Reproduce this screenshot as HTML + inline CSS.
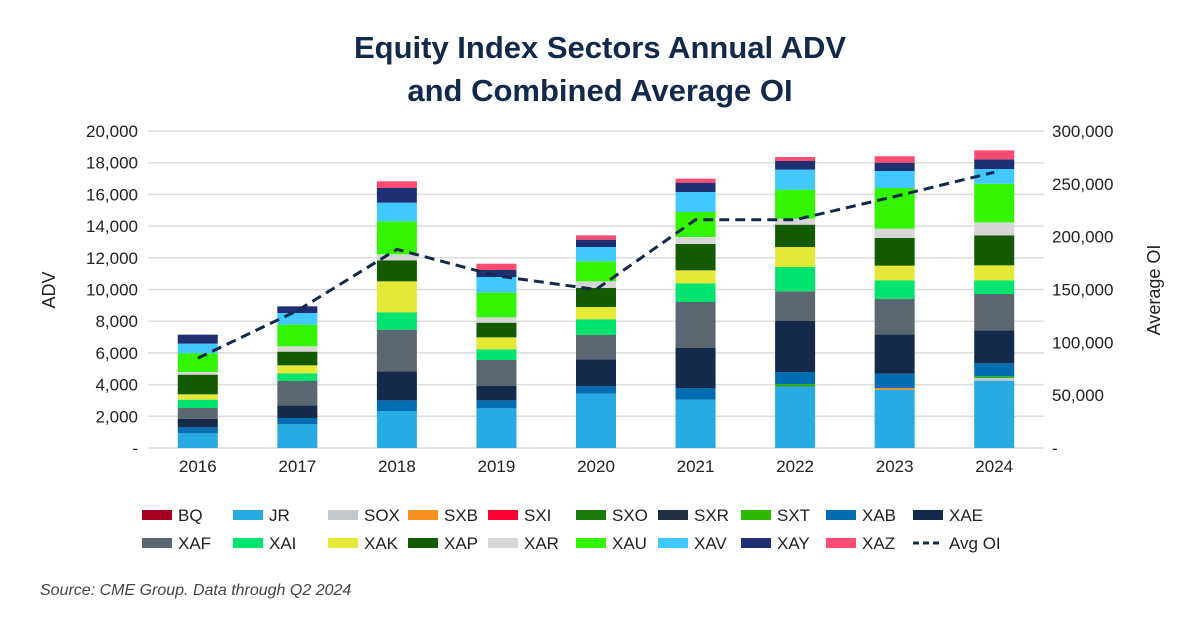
<!DOCTYPE html>
<html><head><meta charset="utf-8"><style>
html,body{margin:0;padding:0;background:#fff;width:1200px;height:627px;overflow:hidden;font-family:"Liberation Sans",sans-serif;}
</style></head><body>
<svg id="chart" width="1200" height="627" xmlns="http://www.w3.org/2000/svg" font-family="Liberation Sans, sans-serif">
<text x="600" y="58" text-anchor="middle" font-size="31" font-weight="bold" fill="#13294b">Equity Index Sectors Annual ADV</text>
<text x="600" y="101" text-anchor="middle" font-size="31" font-weight="bold" fill="#13294b">and Combined Average OI</text>
<text transform="translate(55,290) rotate(-90)" text-anchor="middle" font-size="18" fill="#222">ADV</text>
<text transform="translate(1160,290) rotate(-90)" text-anchor="middle" font-size="18" fill="#222">Average OI</text>
<text x="40" y="595" font-size="16" font-style="italic" fill="#444">Source: CME Group. Data through Q2 2024</text>
<g id="grid"></g><g id="bars"></g><g id="line"></g><g id="axes"></g><g id="legend"></g>
</svg>
<script>
const years=["2016","2017","2018","2019","2020","2021","2022","2023","2024"];
const seriesNames=["BQ","JR","SOX","SXB","SXI","SXO","SXR","SXT","XAB","XAE","XAF","XAI","XAK","XAP","XAR","XAU","XAV","XAY","XAZ"];
const BQ=[0,0,0,0,0,0,0,0,0];
const JR=[925,1493,2334,2503,3428,3049,3890,3680,4248];
const SOX=[0,0,0,0,0,0,0,0,168];
const SXB=[0,0,0,0,0,0,0,105,0];
const SXI=[0,0,0,0,0,0,0,0,0];
const SXO=[0,0,0,0,0,0,63,0,0];
const SXR=[0,0,0,0,0,0,0,0,0];
const SXT=[0,0,0,0,0,0,84,0,105];
const XAB=[378,400,673,505,463,715,757,904,820];
const XAE=[547,799,1830,904,1703,2545,3218,2482,2082];
const XAF=[673,1535,2629,1640,1535,2902,1872,2229,2292];
const XAI=[526,484,1094,673,988,1178,1535,1178,862];
const XAK=[337,505,1956,757,778,820,1262,925,946];
const XAP=[1241,862,1325,925,1199,1661,1409,1746,1893];
const XAR=[168,336,379,336,421,442,379,589,820];
const XAU=[1178,1367,2082,1556,1262,1577,1830,2566,2439];
const XAV=[610,736,1178,988,904,1262,1262,1073,925];
const XAY=[568,421,925,442,463,589,547,526,610];
const XAZ=[0,0,421,400,273,252,252,400,568];
const avgOI=[85000,130000,188000,163000,150000,216000,216000,238000,261000];
const leftTicks=[0,2000,4000,6000,8000,10000,12000,14000,16000,18000,20000];
const rightTicks=[0,50000,100000,150000,200000,250000,300000];
const colors={BQ:"#a50021",JR:"#27a9e1",SOX:"#c2c8cc",SXB:"#f7901e",SXI:"#ff0033",SXO:"#1b7a0a",SXR:"#22313f",SXT:"#2dba00",XAB:"#006db3",XAE:"#132a4a",XAF:"#5b6770",XAI:"#00e36e",XAK:"#e4e836",XAP:"#145a00",XAR:"#d6d6d6",XAU:"#33f500",XAV:"#40c8ff",XAY:"#1e2f72",XAZ:"#ff4b71"};
const data={BQ,JR,SOX,SXB,SXI,SXO,SXR,SXT,XAB,XAE,XAF,XAI,XAK,XAP,XAR,XAU,XAV,XAY,XAZ};
const NS="http://www.w3.org/2000/svg";
const x0=148,x1=1044,yB=448,yT=131;
const yL=v=>yB-(v/20000)*(yB-yT);
const yR=v=>yB-(v/300000)*(yB-yT);
const step=(x1-x0)/years.length;
const xC=i=>x0+step*(i+0.5);
function mk(tag,attrs,parent,txt){const e=document.createElementNS(NS,tag);for(const k in attrs)e.setAttribute(k,attrs[k]);if(txt!==undefined)e.textContent=txt;parent.appendChild(e);return e;}
const fmt=v=>v===0?"-":v.toLocaleString("en-US");
const grid=document.getElementById("grid"),axes=document.getElementById("axes");
leftTicks.forEach(t=>{
  const g=mk("line",{x1:x0,x2:x1,y1:yL(t),y2:yL(t),stroke:"#dcdcdc","stroke-width":1.5},grid);
  
  
  const l=mk("text",{x:138,y:yL(t)+6,"text-anchor":"end","font-size":17,fill:"#222"},axes,fmt(t));
  
  
});
rightTicks.forEach(t=>{
  const l=mk("text",{x:1052,y:yR(t)+6,"text-anchor":"start","font-size":17,fill:"#222"},axes,fmt(t));
  
  
});
years.forEach((y,i)=>{
  const l=mk("text",{x:xC(i),y:472,"text-anchor":"middle","font-size":17,fill:"#222"},axes,y);
  
  
});
const bars=document.getElementById("bars");const bw=40;
years.forEach((y,i)=>{
  let cum=0;
  seriesNames.forEach(s=>{
    const v=data[s][i];if(!v)return;
    const r=mk("rect",{x:xC(i)-bw/2,y:yL(cum+v),width:bw,height:yL(cum)-yL(cum+v),fill:colors[s]},bars);
    
    
    cum+=v;
  });
});
const pts=avgOI.map((v,i)=>xC(i)+","+yR(v)).join(" ");
const pl=mk("polyline",{points:pts,fill:"none",stroke:"#13294b","stroke-width":3,"stroke-dasharray":"10,6"},document.getElementById("line"));


const leg=document.getElementById("legend");
const lx=[142,233,328,408,488,576,658,741,826,913];
const legendItems=seriesNames.concat(["Avg OI"]);
legendItems.forEach((s,k)=>{
  const row=k<10?0:1,col=k%10;const y=row?543:515;const x=lx[col];
  const g=mk("g",{},leg);
  
  
  if(s==="Avg OI"){mk("line",{x1:x,x2:x+30,y1:y,y2:y,stroke:"#13294b","stroke-width":3,"stroke-dasharray":"6,4"},g);}
  else mk("rect",{x:x,y:y-5,width:30,height:10,fill:colors[s]},g);
  mk("text",{x:x+36,y:y+6,"font-size":17,fill:"#222"},g,s);
});
</script>
</body></html>
